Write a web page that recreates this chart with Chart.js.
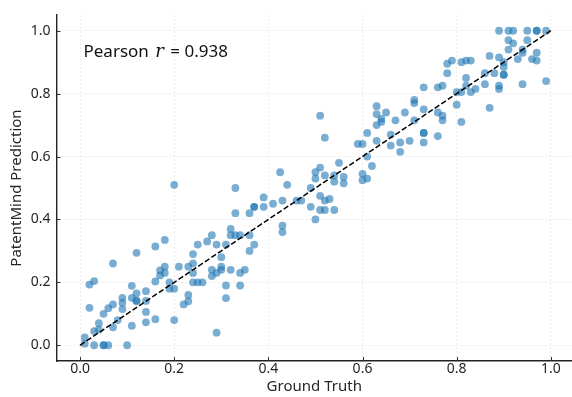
<!DOCTYPE html>
<html>
<head>
<meta charset="utf-8">
<script src="https://cdn.jsdelivr.net/npm/chart.js@4.4.1/dist/chart.umd.min.js"></script>
<style>
  body { margin: 0; background: #fff; }
  #wrap { width: 572px; height: 397px; }
</style>
</head>
<body>
<div id="wrap"><canvas id="myCanvas" width="572" height="397"></canvas></div>
<script>
'use strict';

// ground truth vs predicted
let groundTruth = [
  0.01, 0.01, 0.03, 0.05, 0.05, 0.06, 0.10, 0.03, 0.04, 0.07, 0.04, 0.08, 0.11, 0.14, 0.16, 0.05, 0.14, 0.09, 0.06, 0.02,
  0.07, 0.09, 0.12, 0.12, 0.14, 0.09, 0.11, 0.12, 0.14, 0.11, 0.02, 0.03, 0.16, 0.17, 0.17, 0.07, 0.12, 0.16, 0.18, 0.20,
  0.18, 0.18, 0.19, 0.19, 0.20, 0.21, 0.23, 0.24, 0.24, 0.25, 0.27, 0.29, 0.28, 0.28, 0.28, 0.29, 0.24, 0.24, 0.25, 0.26,
  0.23, 0.23, 0.22, 0.20, 0.29,
  0.33, 0.44, 0.39, 0.43, 0.37, 0.37, 0.39, 0.41, 0.36, 0.33, 0.43, 0.43, 0.32, 0.32, 0.33, 0.34, 0.36, 0.31, 0.30, 0.37,
  0.36, 0.30, 0.30, 0.32, 0.34, 0.35, 0.31, 0.34, 0.31,
  0.51, 0.52, 0.59, 0.60, 0.425, 0.46, 0.47, 0.49, 0.50, 0.50, 0.51, 0.52, 0.54, 0.54, 0.55, 0.56, 0.56, 0.60, 0.60, 0.49,
  0.50, 0.51, 0.52, 0.53, 0.51, 0.52, 0.54,
  0.73, 0.76, 0.71, 0.71, 0.73, 0.76, 0.69, 0.71, 0.67, 0.63, 0.63, 0.64, 0.64, 0.65, 0.63, 0.61, 0.66, 0.73, 0.73, 0.76,
  0.63, 0.66, 0.68, 0.70, 0.73, 0.68, 0.61, 0.62, 0.61,
  0.89, 0.91, 0.91, 0.91, 0.87, 0.89, 0.90, 0.90, 0.90, 0.90, 0.88, 0.86, 0.86, 0.89, 0.89, 0.87, 0.78, 0.79, 0.81, 0.82,
  0.83, 0.78, 0.82, 0.82, 0.83, 0.81, 0.84, 0.77, 0.80, 0.80, 0.81, 0.77, 0.77,
  0.92, 0.95, 0.97, 0.97, 0.99, 0.92, 0.95, 0.94, 0.94, 0.97, 0.93, 0.96, 0.97, 0.94, 0.99
];
let predicted = [
  0.005, 0.025, 0.0, 0.0, 0.0, 0.0, 0.0, 0.045, 0.05, 0.057, 0.07, 0.08, 0.062, 0.073, 0.083, 0.10, 0.106, 0.115, 0.118, 0.119,
  0.13, 0.135, 0.141, 0.141, 0.141, 0.151, 0.151, 0.165, 0.172, 0.189, 0.193, 0.204, 0.203, 0.222, 0.238, 0.26, 0.294, 0.314, 0.335, 0.51,
  0.25, 0.23, 0.20, 0.18, 0.18, 0.25, 0.25, 0.29, 0.26, 0.32, 0.33, 0.32, 0.35, 0.24, 0.22, 0.23, 0.23, 0.20, 0.20, 0.20,
  0.16, 0.14, 0.13, 0.08, 0.04,
  0.50, 0.51, 0.47, 0.46, 0.44, 0.44, 0.44, 0.45, 0.42, 0.42, 0.38, 0.36, 0.37, 0.35, 0.35, 0.35, 0.35, 0.32, 0.28, 0.32,
  0.30, 0.24, 0.25, 0.24, 0.23, 0.24, 0.19, 0.19, 0.15,
  0.73, 0.66, 0.64, 0.64, 0.55, 0.46, 0.46, 0.50, 0.53, 0.55, 0.565, 0.54, 0.54, 0.52, 0.58, 0.535, 0.515, 0.545, 0.525, 0.44,
  0.40, 0.475, 0.46, 0.465, 0.43, 0.43, 0.43,
  0.82, 0.82, 0.78, 0.77, 0.75, 0.74, 0.74, 0.715, 0.715, 0.76, 0.735, 0.72, 0.71, 0.74, 0.70, 0.675, 0.67, 0.675, 0.675, 0.665,
  0.65, 0.635, 0.645, 0.65, 0.645, 0.615, 0.60, 0.57, 0.53,
  1.0, 1.0, 0.97, 0.94, 0.92, 0.915, 0.90, 0.885, 0.86, 0.86, 0.865, 0.865, 0.83, 0.825, 0.815, 0.755, 0.895, 0.905, 0.90, 0.905,
  0.905, 0.865, 0.85, 0.825, 0.805, 0.805, 0.815, 0.825, 0.805, 0.765, 0.71, 0.73, 0.715,
  1.0, 1.0, 1.0, 1.0, 1.0, 0.96, 0.97, 0.94, 0.93, 0.93, 0.91, 0.91, 0.905, 0.83, 0.84
];
let identityLine = [0, 1];
let xTicks = [0, 0.2, 0.4, 0.6, 0.8, 1.0];
let yTicks = [0, 0.2, 0.4, 0.6, 0.8, 1.0];
let pearsonR = '0.938';

const textColor = '#262626';
const fontName = '"Noto Sans", "DejaVu Sans", sans-serif';

let points = [];
for (let i = 0; i < groundTruth.length; i++) {
  points.push({ x: groundTruth[i], y: predicted[i] });
}
let linePoints = identityLine.map(v => ({ x: v, y: v }));

function fixTicks(list) {
  return function(scale) {
    scale.ticks = list.map(v => ({ value: v }));
  };
}

// matplotlib style ticks pointing into the axes, plus the r label
const innerTicks = {
  id: 'innerTicks',
  afterDraw(chart) {
    const ctx = chart.ctx;
    const area = chart.chartArea;
    const xs = chart.scales.x;
    const ys = chart.scales.y;
    ctx.save();
    ctx.strokeStyle = '#333';
    ctx.lineWidth = 1;
    ctx.beginPath();
    xTicks.forEach(v => {
      let px = Math.round(xs.getPixelForValue(v)) + 0.5;
      ctx.moveTo(px, area.bottom);
      ctx.lineTo(px, area.bottom - 4);
    });
    yTicks.forEach(v => {
      let py = Math.round(ys.getPixelForValue(v)) + 0.5;
      ctx.moveTo(area.left, py);
      ctx.lineTo(area.left + 4, py);
    });
    ctx.stroke();

    let x = area.left + 27;
    let y = area.top + 42;
    ctx.fillStyle = '#111';
    ctx.textBaseline = 'alphabetic';
    ctx.font = '17px ' + fontName;
    ctx.fillText('Pearson ', x, y);
    x += ctx.measureText('Pearson ').width + 2;
    ctx.font = 'italic 18px "DejaVu Serif", serif';
    ctx.fillText('r', x, y);
    x += ctx.measureText('r').width + 2;
    ctx.font = '17px ' + fontName;
    ctx.fillText(' = ' + pearsonR, x, y);
    ctx.restore();
  }
};

const config = {
  type: 'scatter',
  data: {
    datasets: [
      {
        type: 'line',
        data: linePoints,
        borderColor: '#000',
        borderWidth: 1.5,
        borderDash: [5.5, 2.4],
        pointRadius: 0,
        fill: false,
        order: 0
      },
      {
        data: points,
        backgroundColor: 'rgba(31, 119, 180, 0.6)',
        borderWidth: 0,
        pointRadius: 3.9,
        order: 1
      }
    ]
  },
  options: {
    responsive: false,
    animation: false,
    devicePixelRatio: 1,
    layout: { autoPadding: false, padding: { top: 15, right: 0, left: 0, bottom: 0 } },
    plugins: {
      legend: { display: false },
      tooltip: { enabled: false }
    },
    scales: {
      x: {
        type: 'linear',
        min: -0.05,
        max: 1.045,
        afterBuildTicks: fixTicks(xTicks),
        afterFit(scale) { scale.height = 36; },
        grid: { color: '#e6e6e6', lineWidth: 0.8, drawTicks: false },
        border: { display: true, color: '#222', width: 1.4, dash: [2, 2] },
        ticks: {
          color: textColor,
          padding: 0,
          font: { family: fontName, size: 14 },
          callback: v => v.toFixed(1)
        },
        title: {
          display: true,
          text: 'Ground Truth',
          color: textColor,
          font: { family: fontName, size: 15 },
          padding: { top: 0, bottom: 1 }
        }
      },
      y: {
        type: 'linear',
        min: -0.05,
        max: 1.05,
        afterBuildTicks: fixTicks(yTicks),
        afterFit(scale) { scale.width = 56.5; },
        grid: { color: '#e6e6e6', lineWidth: 0.8, drawTicks: false },
        border: { display: true, color: '#222', width: 1.4, dash: [2, 2] },
        ticks: {
          color: textColor,
          padding: 6,
          font: { family: fontName, size: 14 },
          callback: v => v.toFixed(1)
        },
        title: {
          display: true,
          text: 'PatentMind Prediction',
          color: textColor,
          font: { family: fontName, size: 15 },
          padding: { top: 8, bottom: 0 }
        }
      }
    }
  },
  plugins: [innerTicks]
};

const canvas = document.getElementById('myCanvas');
const myChart = new Chart(canvas, config);
</script>
</body>
</html>
